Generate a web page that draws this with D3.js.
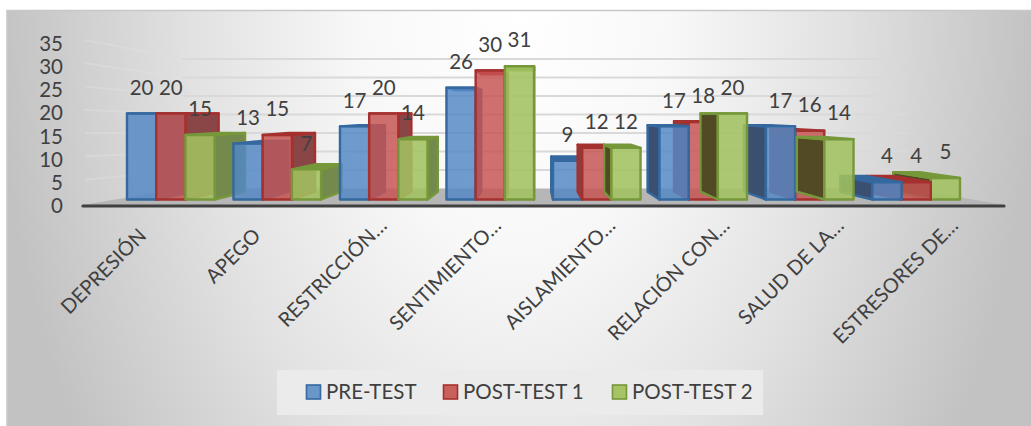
<!DOCTYPE html>
<html><head><meta charset="utf-8">
<script src="https://cdn.jsdelivr.net/npm/d3@7"></script>
<style>html,body{margin:0;padding:0;background:#fff}svg{display:block}text{font-family:Lato,"Open Sans",sans-serif;fill:#404040}</style>
</head><body><div id="c"></div>
<script>
const categories=["DEPRESIÓN","APEGO","RESTRICCIÓN…","SENTIMIENTO…","AISLAMIENTO…","RELACIÓN CON…","SALUD DE LA…","ESTRESORES DE…"];
const seriesNames=["PRE-TEST","POST-TEST 1","POST-TEST 2"];
const preTest=[20,13,17,26,9,17,17,4];
const postTest1=[20,15,20,30,12,18,16,4];
const postTest2=[15,7,14,31,12,20,14,5];
const yTicks=[0,5,10,15,20,25,30,35];
const groupOrder=[0,1,2,3,4,7,6,5];
const seriesOrder=[[0,1,2],[0,1,2],[0,1,2],[0,1,2],[0,1,2],[1,0,2],[1,0,2],[2,1,0]];
const allSeries=[preTest,postTest1,postTest2];
const fronts=["rgba(84,136,198,.84)","rgba(198,84,82,.84)","rgba(162,194,96,.88)"];
const strokes=["#34689f","#a5312f","#76983a"];
const sidesL=["#3b5070","#8c3e3e","#524a25"];
const sidesR=["#47698f","#8a4547","#738a4c"];
const W=1031,H=426;
const svg=d3.select("#c").append("svg").attr("width",W).attr("height",H);
const defs=svg.append("defs");
const g=defs.append("radialGradient").attr("id","bg").attr("gradientUnits","userSpaceOnUse")
 .attr("cx",0).attr("cy",0).attr("r",1).attr("gradientTransform","translate(516,10) scale(520,800)");
[[0,"#ffffff"],[.3,"#f8f8f8"],[.62,"#e2e2e2"],[1,"#c2c2c2"]].forEach(s=>g.append("stop").attr("offset",s[0]).attr("stop-color",s[1]));
svg.append("rect").attr("x",7).attr("y",10).attr("width",W-7).attr("height",H-10).attr("fill","url(#bg)");
svg.append("path").attr("d",`M7,${H}V10.5H${W}`).attr("fill","none").attr("stroke","#c8c8c8").attr("stroke-width",1.5);

const yFront=d3.scaleLinear().domain([0,35]).range([199.5,49]);
const yWall=d3.scaleLinear().domain([0,35]).range([188.5,59]);
const yTick=d3.scaleLinear().domain([0,35]).range([206,44]);
const yWallFront=d3.scaleLinear().domain([0,35]).range([203,40]);
const x0=d3.scaleBand().domain(categories).range([127,960]).paddingInner(.177);
const x1=d3.scaleBand().domain(seriesNames).range([0,x0.bandwidth()]);
const xLabel=d3.scalePoint().domain(categories).range([154,954]);

// walls
const wall=svg.append("g").attr("fill","none").attr("stroke","#d9d9d9").attr("stroke-width",2);
yTicks.filter(t=>t>0).forEach(t=>{
 wall.append("line").attr("x1",182).attr("x2",908).attr("y1",yWall(t)).attr("y2",yWall(t));
 wall.append("line").attr("x1",85).attr("x2",182).attr("y1",yWallFront(t)).attr("y2",yWall(t)).attr("stroke","#e0e0e0").attr("stroke-opacity",.45);
});
// floor
svg.append("polygon").attr("points",[[82,205],[1005,205],[908,188.5],[182,188.5]].join(" ")).attr("fill","#b6b6b6");
svg.append("line").attr("x1",83).attr("x2",1004).attr("y1",206).attr("y2",206).attr("stroke","#404040").attr("stroke-width",3.2).attr("stroke-linecap","round");

// axes
const ya=d3.axisLeft(yTick).tickValues(yTicks).tickSize(0).tickPadding(0);
svg.append("g").attr("transform","translate(63,0)").call(ya).call(s=>s.select(".domain").remove())
 .selectAll("text").style("font-family","Lato").style("font-size","20.5px").attr("fill","#404040");
const xa=d3.axisBottom(xLabel).tickSize(0).tickPadding(0);
svg.append("g").attr("transform","translate(0,222)").call(xa).call(s=>s.select(".domain").remove())
 .selectAll("text").style("font-family","Lato").style("font-size","20px").attr("text-anchor","end")
 .attr("fill","#404040")
 .attr("y",0).attr("dy","0.35em")
 .attr("transform",d=>d.endsWith("…")?"rotate(-45)":"translate(-12,10) rotate(-45)");

// bars with perspective
const vpx=535,vpy=113,kx=.095,ky=.09;
const bx=x=>x+(vpx-x)*kx, by=y=>y+(vpy-y)*ky;
const bars=svg.append("g").attr("stroke-width",2.4).attr("stroke-linejoin","round");
groupOrder.forEach(i=>{
 seriesOrder[i].forEach(j=>{
  const s=seriesNames[j];
  const v=allSeries[j][i];
  const l=x0(categories[i])+x1(s), r=l+x1.bandwidth(), t=yFront(v), b=yFront(0);
  const gb=bars.append("g").attr("stroke",strokes[j]);
  const poly=(pts,f)=>gb.append("polygon").attr("points",pts.join(" ")).attr("fill",f);
  const sideX=l>vpx?l:r;
  poly([[sideX,t],[bx(sideX),by(t)],[bx(sideX),by(b)],[sideX,b]],l>vpx?sidesL[j]:sidesR[j]);
  poly([[l,t],[bx(l),by(t)],[bx(r),by(t)],[r,t]],strokes[j]);
  gb.append("rect").attr("x",l).attr("y",t).attr("width",r-l).attr("height",b-t).attr("fill",fronts[j]);
 });
});
// labels
const lab=svg.append("g").attr("font-size",20.5).attr("text-anchor","middle");
categories.forEach((c,i)=>seriesNames.forEach((s,j)=>{
 lab.append("text").attr("x",x0(c)+x1(s)+x1.bandwidth()/2).attr("y",yFront(allSeries[j][i])-26).attr("dy","0.35em").text(allSeries[j][i]);
}));
// legend
svg.append("rect").attr("x",277).attr("y",370).attr("width",486).attr("height",45).attr("fill","#ebebeb");
const legX=d3.scaleOrdinal().domain(seriesNames).range([306,443,612]);
const swatch=["#6a96c9","#c9605c","#a6c264"];
seriesNames.forEach((s,j)=>{
 svg.append("rect").attr("x",legX(s)+.5).attr("y",385).attr("width",14).attr("height",14).attr("fill",swatch[j]).attr("stroke",strokes[j]).attr("stroke-width",1.6);
 svg.append("text").attr("x",legX(s)+20).attr("y",392).attr("dy","0.35em").attr("font-size",20.5).text(s);
});
</script></body></html>
